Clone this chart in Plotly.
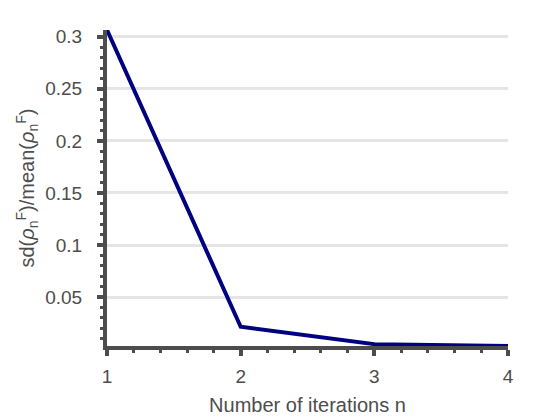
import plotly.graph_objects as go

# data
n_iter = [1, 2, 3, 4]
rel_sd = [0.3065, 0.0215, 0.0048, 0.003]

ytick_vals = [0.05, 0.1, 0.15, 0.2, 0.25, 0.3]
ytick_text = ["0.05", "0.1", "0.15", "0.2", "0.25", "0.3"]

axis_col = "#4d4d4d"
fnt = "Liberation Sans"

fig = go.Figure()
fig.add_trace(go.Scatter(
    x=n_iter, y=rel_sd, mode="lines",
    line=dict(color="#000080", width=4),
    showlegend=False
))

# page body has an 8px margin, so the figure is a bit smaller than the window
fig.update_layout(
    width=552, height=412,
    paper_bgcolor="white", plot_bgcolor="white",
    margin=dict(l=99, r=52, t=22, b=74, autoexpand=False),
    font=dict(family=fnt, color=axis_col, size=19),
)

fig.update_xaxes(
    range=[1, 4], tickvals=n_iter, ticktext=[str(v) for v in n_iter],
    automargin=False,
    showgrid=False, zeroline=False,
    showline=True, linecolor=axis_col, linewidth=4,
    ticks="outside", ticklen=6, tickwidth=4, tickcolor=axis_col,
    minor=dict(ticks="outside", dtick=0.2, ticklen=3, tickwidth=3, tickcolor=axis_col),
    tickfont=dict(family=fnt, size=19, color=axis_col),
    ticklabelstandoff=4,
    title=dict(text="Number of iterations n", font=dict(family=fnt, size=20, color=axis_col), standoff=13),
)
fig.update_yaxes(
    range=[0.003, 0.3065], tickvals=ytick_vals, ticktext=ytick_text,
    automargin=False,
    showgrid=True, gridcolor="#e5e5e5", gridwidth=3, zeroline=False,
    showline=True, linecolor=axis_col, linewidth=4,
    ticks="outside", ticklen=6, tickwidth=4, tickcolor=axis_col,
    minor=dict(ticks="outside", dtick=0.01, tick0=0, ticklen=3, tickwidth=3,
               tickcolor=axis_col, showgrid=False),
    tickfont=dict(family=fnt, size=19, color=axis_col),
    ticklabelstandoff=11,
    title=dict(text="sd(<i>ρ</i><sub>n</sub><sup>F</sup>)/mean(<i>ρ</i><sub>n</sub><sup>F</sup>)",
               font=dict(family=fnt, size=20, color=axis_col), standoff=6),
)

fig.write_html("out.html")
